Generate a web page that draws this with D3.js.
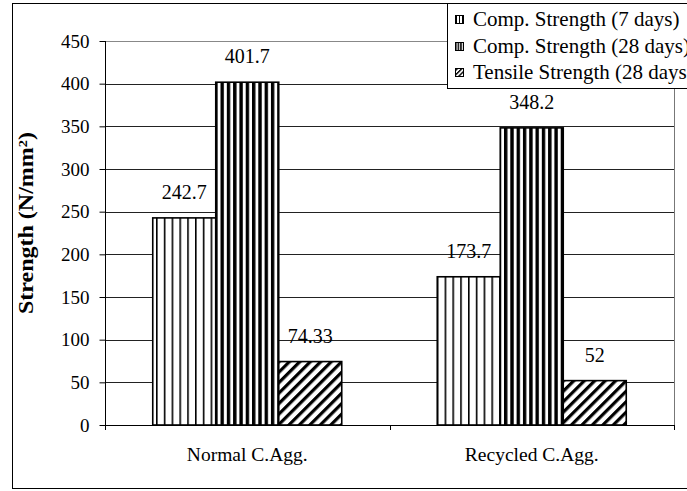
<!DOCTYPE html>
<html>
<head>
<meta charset="utf-8">
<script src="https://cdn.jsdelivr.net/npm/d3@7/dist/d3.min.js"></script>
<style>
  html, body { margin: 0; padding: 0; background: #fff; }
  svg { display: block; }
  svg text { font-family: "Liberation Serif", serif !important; fill: #000; }
</style>
</head>
<body>
<svg id="chart" width="687" height="491" font-family="Liberation Serif"></svg>
<script>
// Aggregate types along the category axis
const categories = ["Normal C.Agg.", "Recycled C.Agg."];
// Series names, in legend order
const seriesNames = ["Comp. Strength (7 days)", "Comp. Strength (28 days)", "Tensile Strength (28 days)"];
// Strength values (N/mm²) per aggregate type
const comp7 = [242.7, 173.7];
const comp28 = [401.7, 348.2];
const tensile28 = [74.33, 52];
// Value axis ticks
const yTicks = [0, 50, 100, 150, 200, 250, 300, 350, 400, 450];

const seriesValues = [comp7, comp28, tensile28];
const patternIds = ["pat7", "pat28", "patTen"];
const SERIF = "Liberation Serif";

const svg = d3.select("#chart");
const plot = { left: 105, right: 674, top: 41, bottom: 425 };

// ---- fill patterns ----
const defs = svg.append("defs");
function vStripes(id, period, lineW) {
  const p = defs.append("pattern").attr("id", id)
    .attr("patternUnits", "userSpaceOnUse")
    .attr("width", period).attr("height", 10);
  p.append("rect").attr("width", period).attr("height", 10).attr("fill", "#fff");
  p.append("rect").attr("x", 0).attr("width", lineW).attr("height", 10).attr("fill", "#000");
}
function diag(id, period, lineW) {
  const p = defs.append("pattern").attr("id", id)
    .attr("patternUnits", "userSpaceOnUse")
    .attr("width", period).attr("height", 10)
    .attr("patternTransform", "rotate(45)");
  p.append("rect").attr("width", period).attr("height", 10).attr("fill", "#fff");
  p.append("rect").attr("x", 0).attr("width", lineW).attr("height", 10).attr("fill", "#000");
}
vStripes("pat7", 7.8, 1.6);
vStripes("pat28", 6.3, 3.4);
diag("patTen", 7.4, 3.2);
// smaller versions for the legend keys
vStripes("pat7s", 3, 1);
vStripes("pat28s", 2.6, 1.5);
diag("patTens", 3.2, 1.4);

// ---- outer chart frame ----
svg.append("rect")
  .attr("x", 12.5).attr("y", 3.5)
  .attr("width", 700).attr("height", 485)
  .attr("fill", "#fff").attr("stroke", "#000").attr("stroke-width", 1);

// ---- scales ----
const y = d3.scaleLinear().domain([0, 450]).range([plot.bottom, plot.top]);
const x0 = d3.scaleBand().domain(categories).range([plot.left, plot.right]).paddingInner(0).paddingOuter(0);
const x1 = d3.scaleBand().domain(d3.range(seriesNames.length))
  .range([0, x0.bandwidth()]).paddingInner(0).paddingOuter(0.758);

// ---- gridlines ----
svg.append("g").selectAll("line").data(yTicks.filter(t => t > 0)).join("line")
  .attr("x1", plot.left).attr("x2", plot.right)
  .attr("y1", d => Math.round(y(d)) + 0.5).attr("y2", d => Math.round(y(d)) + 0.5)
  .attr("stroke", d => d === 450 ? "#888" : "#222").attr("stroke-width", 1);

// right edge of plot area
svg.append("line")
  .attr("x1", plot.right + 0.5).attr("x2", plot.right + 0.5)
  .attr("y1", plot.top).attr("y2", plot.bottom)
  .attr("stroke", "#777").attr("stroke-width", 1);

// ---- bars ----
const barData = [];
categories.forEach((c, ci) => {
  seriesValues.forEach((vals, si) => {
    barData.push({ cat: c, s: si, v: vals[ci] });
  });
});

svg.append("g").selectAll("rect").data(barData).join("rect")
  .attr("x", d => x0(d.cat) + x1(d.s))
  .attr("y", d => y(d.v))
  .attr("width", x1.bandwidth())
  .attr("height", d => plot.bottom - y(d.v))
  .attr("fill", d => `url(#${patternIds[d.s]})`)
  .attr("stroke", "#000").attr("stroke-width", 1.6);

// ---- data labels ----
svg.append("g").selectAll("text").data(barData).join("text")
  .attr("x", d => x0(d.cat) + x1(d.s) + x1.bandwidth() / 2)
  .attr("y", d => y(d.v) - 19)
  .attr("text-anchor", "middle")
  .attr("font-family", SERIF)
  .attr("font-size", 20)
  .text(d => String(d.v));

// ---- y axis ----
const yAxis = d3.axisLeft(y).tickValues(yTicks).tickSize(6).tickPadding(10).tickFormat(d3.format("d"));
const gy = svg.append("g").attr("transform", `translate(${plot.left + 0.5},0)`).call(yAxis)
  .attr("font-family", SERIF).attr("font-size", 19);
gy.select(".domain").attr("stroke", "#000").attr("d", `M0,${plot.top}V${plot.bottom + 5}`);
gy.selectAll(".tick line").attr("stroke", "#000");
gy.selectAll(".tick text")
  .attr("font-family", SERIF)
  .attr("font-size", 19).attr("fill", "#000");

// ---- x axis ----
svg.append("line")
  .attr("x1", plot.left).attr("x2", plot.right + 1)
  .attr("y1", plot.bottom + 0.5).attr("y2", plot.bottom + 0.5)
  .attr("stroke", "#000").attr("stroke-width", 1.2);
const xTickPos = categories.map(c => x0(c)).concat([plot.right]);
svg.append("g").selectAll("line").data(xTickPos).join("line")
  .attr("x1", d => Math.round(d) + 0.5).attr("x2", d => Math.round(d) + 0.5)
  .attr("y1", plot.bottom).attr("y2", plot.bottom + 5)
  .attr("stroke", "#000");
svg.append("g").selectAll("text").data(categories).join("text")
  .attr("x", d => x0(d) + x0.bandwidth() / 2)
  .attr("y", 461)
  .attr("text-anchor", "middle")
  .attr("font-family", SERIF)
  .attr("font-size", 19.5)
  .text(d => d);

// ---- y axis title ----
const yt = svg.append("text")
  .attr("transform", "translate(33,223) rotate(-90) scale(1.2,1)")
  .attr("text-anchor", "middle")
  .attr("font-family", SERIF)
  .attr("font-size", 20).attr("font-weight", "bold");
yt.append("tspan").text("Strength (N/mm");
yt.append("tspan").attr("baseline-shift", "super").attr("font-size", 12).text("2");
yt.append("tspan").text(")");

// ---- legend ----
const lg = svg.append("g");
lg.append("rect")
  .attr("x", 447.5).attr("y", 3.5).attr("width", 260).attr("height", 85)
  .attr("fill", "#fff").attr("stroke", "#000").attr("stroke-width", 1);
const rowY = [19, 46, 72];
const smallIds = ["pat7s", "pat28s", "patTens"];
seriesNames.forEach((name, i) => {
  lg.append("rect")
    .attr("x", 455.5).attr("y", rowY[i] - 3.5).attr("width", 8).attr("height", 8)
    .attr("fill", `url(#${smallIds[i]})`).attr("stroke", "#000").attr("stroke-width", 1);
  lg.append("text")
    .attr("x", 473).attr("y", rowY[i] + 7)
    .attr("font-family", SERIF)
    .attr("font-size", 21)
    .text(name);
});
</script>
</body>
</html>
